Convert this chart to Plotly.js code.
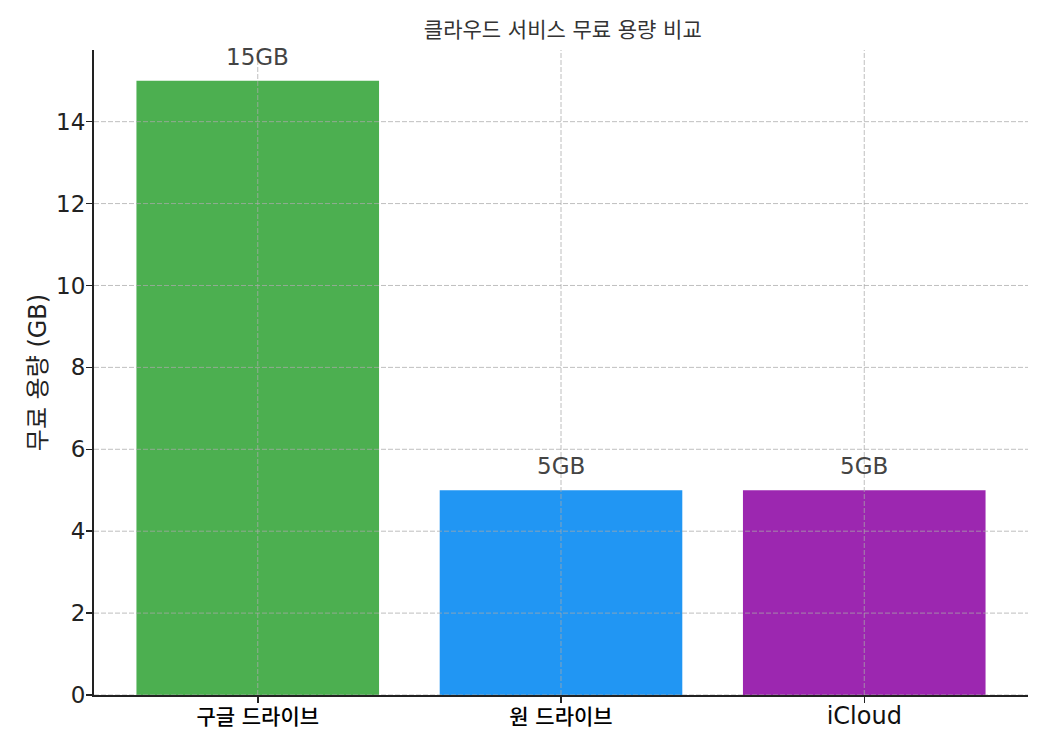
<!DOCTYPE html>
<html>
<head>
<meta charset="utf-8">
<script src="https://cdn.plot.ly/plotly-3.0.1.min.js"></script>
<style>
  body { margin: 0; background: #fff; }
  #chart { width: 1050px; height: 750px; }
</style>
</head>
<body>
<div id="chart"></div>
<script>
  var services = ['구글 드라이브', '원 드라이브', 'iCloud'];
  var freeGB = [15, 5, 5];
  var barColors = ['#4CAF50', '#2196F3', '#9C27B0'];
  var yTicks = [0, 2, 4, 6, 8, 10, 12, 14];

  // DejaVu for latin/digits, Korean falls back to Noto CJK
  var font = '"DejaVu Sans", "Noto Sans CJK KR", sans-serif';
  var gridStyle = { color: 'rgba(170,170,170,0.75)', width: 1, dash: '5px,2px' };

  // korean tick labels are a bit smaller and heavier than the latin one
  var tickText = services.map(function (s) {
    return /[가-힣]/.test(s) ? '<span style="font-size:21px;font-weight:500;fill:#000">' + s + '</span>' : s;
  });

  var trace = {
    type: 'bar',
    x: services,
    y: freeGB,
    width: 0.8,
    marker: { color: barColors },
    hoverinfo: 'none'
  };

  // value labels over the bars
  var labels = services.map(function (s, i) {
    return {
      x: s, y: freeGB[i], xref: 'x', yref: 'y',
      text: freeGB[i] + 'GB',
      showarrow: false,
      yanchor: 'bottom',
      yshift: 9,
      font: { family: font, size: 23, color: '#444' }
    };
  });

  // grid drawn above the bars, as in the reference
  var grid = [];
  yTicks.forEach(function (t) {
    grid.push({ type: 'line', layer: 'above', xref: 'paper', yref: 'y',
      x0: 0, x1: 1, y0: t, y1: t, line: gridStyle });
  });
  services.forEach(function (s) {
    grid.push({ type: 'line', layer: 'above', xref: 'x', yref: 'paper',
      x0: s, x1: s, y0: 0, y1: 1, line: gridStyle });
  });

  var layout = {
    width: 1050,
    height: 750,
    margin: { l: 94, r: 22, t: 50, b: 55 },
    paper_bgcolor: '#fff',
    plot_bgcolor: '#fff',
    showlegend: false,
    font: { family: font, color: '#222' },
    title: {
      text: '클라우드 서비스 무료 용량 비교',
      font: { family: font, size: 21, color: '#333' },
      x: 0.536, xanchor: 'center',
      y: 0.96, yanchor: 'middle'
    },
    xaxis: {
      range: [-0.54, 2.54],
      tickvals: services,
      ticktext: tickText,
      showgrid: false,
      showline: true,
      linecolor: '#222',
      linewidth: 2,
      ticks: 'outside',
      ticklen: 6,
      tickwidth: 1.5,
      tickcolor: '#222',
      ticklabelstandoff: -8,
      tickfont: { family: font, size: 24, color: '#111' },
      zeroline: false
    },
    yaxis: {
      range: [0, 15.75],
      tickvals: yTicks,
      showgrid: false,
      showline: true,
      linecolor: '#222',
      linewidth: 2,
      ticks: 'outside',
      ticklen: 6,
      tickwidth: 1.5,
      tickcolor: '#222',
      ticklabelstandoff: -4,
      tickfont: { family: font, size: 23, color: '#222' },
      zeroline: false,
      title: {
        text: '무료 용량 (GB)',
        font: { family: font, size: 24, color: '#222' },
        standoff: 3
      }
    },
    shapes: grid,
    annotations: labels
  };

  Plotly.newPlot('chart', [trace], layout, { displayModeBar: false, staticPlot: true });
</script>
</body>
</html>
